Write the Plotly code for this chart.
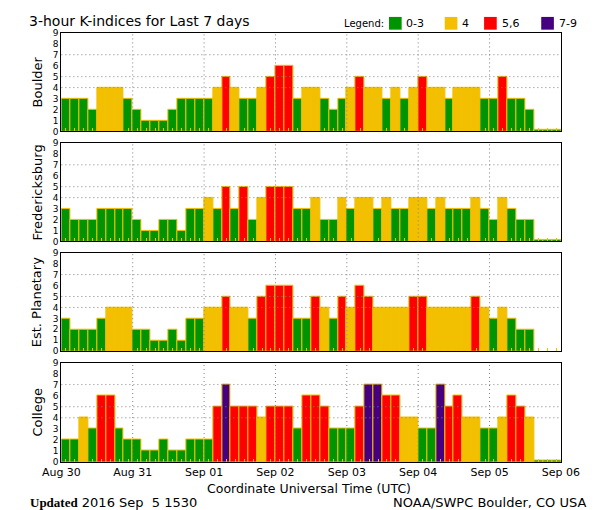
import plotly.graph_objects as go

# ---------------- data ----------------
stations = ["Boulder", "Fredericksburg", "Est. Planetary", "College"]
day_labels = ["Aug 30", "Aug 31", "Sep 01", "Sep 02", "Sep 03", "Sep 04", "Sep 05", "Sep 06"]
day_hours = [0, 24, 48, 72, 96, 120, 144, 168]
# mid-points (hours since Aug 30 00 UT) of the 56 three-hour intervals
slot_hours = [1.5 + 3 * i for i in range(56)]

boulder = [3, 3, 3, 2, 4, 4, 4, 3,
           2, 1, 1, 1, 2, 3, 3, 3,
           3, 4, 5, 4, 3, 3, 4, 5,
           6, 6, 3, 4, 4, 3, 2, 3,
           4, 5, 4, 4, 3, 4, 3, 4,
           5, 4, 4, 3, 4, 4, 4, 3,
           3, 5, 3, 3, 2, 0.15, 0.15, 0.15]
fredericksburg = [3, 2, 2, 2, 3, 3, 3, 3,
                  2, 1, 1, 2, 2, 1, 3, 3,
                  4, 3, 5, 3, 5, 2, 4, 5,
                  5, 5, 3, 3, 4, 2, 2, 4,
                  3, 4, 4, 3, 4, 3, 3, 4,
                  4, 3, 4, 3, 3, 3, 4, 3,
                  2, 4, 3, 2, 2, 0.15, 0.15, 0.15]
planetary = [3, 2, 2, 2, 3, 4, 4, 4,
             2, 2, 1, 1, 2, 1, 3, 3,
             4, 4, 5, 4, 4, 3, 5, 6,
             6, 6, 3, 3, 5, 4, 3, 5,
             4, 6, 5, 4, 4, 4, 4, 5,
             5, 4, 4, 4, 4, 4, 5, 4,
             3, 4, 3, 2, 2, None, None, None]
college = [2, 2, 4, 3, 6, 6, 3, 2,
           2, 1, 1, 2, 1, 1, 2, 2,
           2, 5, 7, 5, 5, 5, 4, 5,
           5, 5, 3, 6, 6, 5, 3, 3,
           3, 5, 7, 7, 6, 6, 4, 4,
           3, 3, 7, 5, 6, 4, 4, 3,
           3, 4, 6, 5, 4, 0.15, 0.15, 0.15]
series = [boulder, fredericksburg, planetary, college]

legend_labels = ["0-3", "4", "5,6", "7-9"]

# ---------------- style ----------------
GREEN = "#009400"
YELLOW = "#F2C000"
RED = "#FF0000"
PURPLE = "#46007F"
legend_colors = [GREEN, YELLOW, RED, PURPLE]
FONT = "DejaVu Sans"
W, H = 600, 510


def kcolor(v):
    if v is None:
        return GREEN
    if v < 3.5:
        return GREEN
    if v < 4.5:
        return YELLOW
    if v < 6.5:
        return RED
    return PURPLE


def px(x):
    return x / W


def py(y):
    return 1 - y / H


x_dom = [px(36.7), px(570)]
panels_px = [(20.2, 120.8), (132.5, 233.0), (244.5, 345.0), (356.5, 458.0)]

fig = go.Figure()
shapes = []
annotations = []
layout_axes = {}

for k, (name, vals) in enumerate(zip(stations, series)):
    sfx = "" if k == 0 else str(k + 1)
    fig.add_trace(go.Bar(
        x=slot_hours, y=vals, width=3,
        marker=dict(color=[kcolor(v) for v in vals], line=dict(color=YELLOW, width=1)),
        xaxis="x" + sfx, yaxis="y" + sfx, showlegend=False, hoverinfo="skip",
    ))
    top, bot = panels_px[k]
    layout_axes["xaxis" + sfx] = dict(
        domain=x_dom, range=[0, 168], anchor="y" + sfx,
        tickmode="array", tickvals=day_hours, ticktext=day_labels,
        showticklabels=(k == 3), ticks="",
        showline=True, linecolor="black", linewidth=1, mirror=True,
        showgrid=False, zeroline=False, layer="above traces",
        tickfont=dict(family=FONT, size=11, color="black"),
        minor=dict(tickmode="array", tickvals=slot_hours, ticks="inside",
                   ticklen=3, tickcolor=YELLOW, tickwidth=1, showgrid=False),
        fixedrange=True,
    )
    layout_axes["yaxis" + sfx] = dict(
        domain=[py(bot), py(top)], range=[0, 9], anchor="x" + sfx,
        tickmode="array", tickvals=list(range(10)), ticks="",
        showline=True, linecolor="black", linewidth=1, mirror=True,
        showgrid=False, zeroline=False, layer="above traces",
        tickfont=dict(family=FONT, size=9, color="black"),
        fixedrange=True,
    )
    xr = "x" + sfx
    yr = "y" + sfx
    for lev in [4, 5, 7]:
        shapes.append(dict(type="line", xref=xr + " domain", yref=yr,
                           x0=0, x1=1, y0=lev, y1=lev, layer="above",
                           line=dict(color="#808080", width=1, dash="1px,3px")))
    for dh in day_hours[1:-1]:
        shapes.append(dict(type="line", xref=xr, yref=yr + " domain",
                           x0=dh, x1=dh, y0=0, y1=1, layer="above",
                           line=dict(color="#808080", width=1, dash="1px,3px")))
    annotations.append(dict(text=name, xref="paper", yref="paper",
                            x=px(11), y=py((top + bot) / 2), textangle=-90,
                            showarrow=False, xanchor="center", yanchor="middle",
                            font=dict(family=FONT, size=13, color="black")))

# title
annotations.append(dict(text="3-hour K-indices for Last 7 days", xref="paper", yref="paper",
                        x=px(0), y=py(8), xanchor="left", yanchor="middle", showarrow=False,
                        font=dict(family=FONT, size=14, color="black")))
# legend
annotations.append(dict(text="Legend:", xref="paper", yref="paper",
                        x=px(336), y=py(11), xanchor="left", yanchor="middle", showarrow=False,
                        font=dict(family=FONT, size=10, color="black")))
box_left = [386.5, 446, 488, 549]
for lbl, col, bl in zip(legend_labels, legend_colors, box_left):
    shapes.append(dict(type="rect", xref="paper", yref="paper",
                       x0=px(bl), x1=px(bl + 13.5), y0=py(17), y1=py(4),
                       fillcolor=col, line=dict(width=0)))
    annotations.append(dict(text=lbl, xref="paper", yref="paper",
                            x=px(bl + 16.5), y=py(11), xanchor="left", yanchor="middle",
                            showarrow=False, font=dict(family=FONT, size=11, color="black")))
# x title
annotations.append(dict(text="Coordinate Universal Time (UTC)", xref="paper", yref="paper",
                        x=px(301), y=py(485), xanchor="center", yanchor="middle", showarrow=False,
                        font=dict(family=FONT, size=12.5, color="black")))
# footer
annotations.append(dict(
    text='<span style="font-family:Liberation Serif;font-weight:bold">Updated</span> 2016 Sep \u00a05 1530',
    xref="paper", yref="paper", x=px(1), y=py(499), xanchor="left", yanchor="middle",
    showarrow=False, font=dict(family=FONT, size=13, color="black")))
annotations.append(dict(text="NOAA/SWPC Boulder, CO USA", xref="paper", yref="paper",
                        x=px(599), y=py(499), xanchor="right", yanchor="middle", showarrow=False,
                        font=dict(family=FONT, size=13, color="black")))

fig.update_layout(
    width=W, height=H, margin=dict(l=0, r=0, t=0, b=0),
    paper_bgcolor="white", plot_bgcolor="white",
    bargap=0, showlegend=False,
    shapes=shapes, annotations=annotations,
    font=dict(family=FONT, color="black"),
    **layout_axes,
)

fig.write_html("out.html")
